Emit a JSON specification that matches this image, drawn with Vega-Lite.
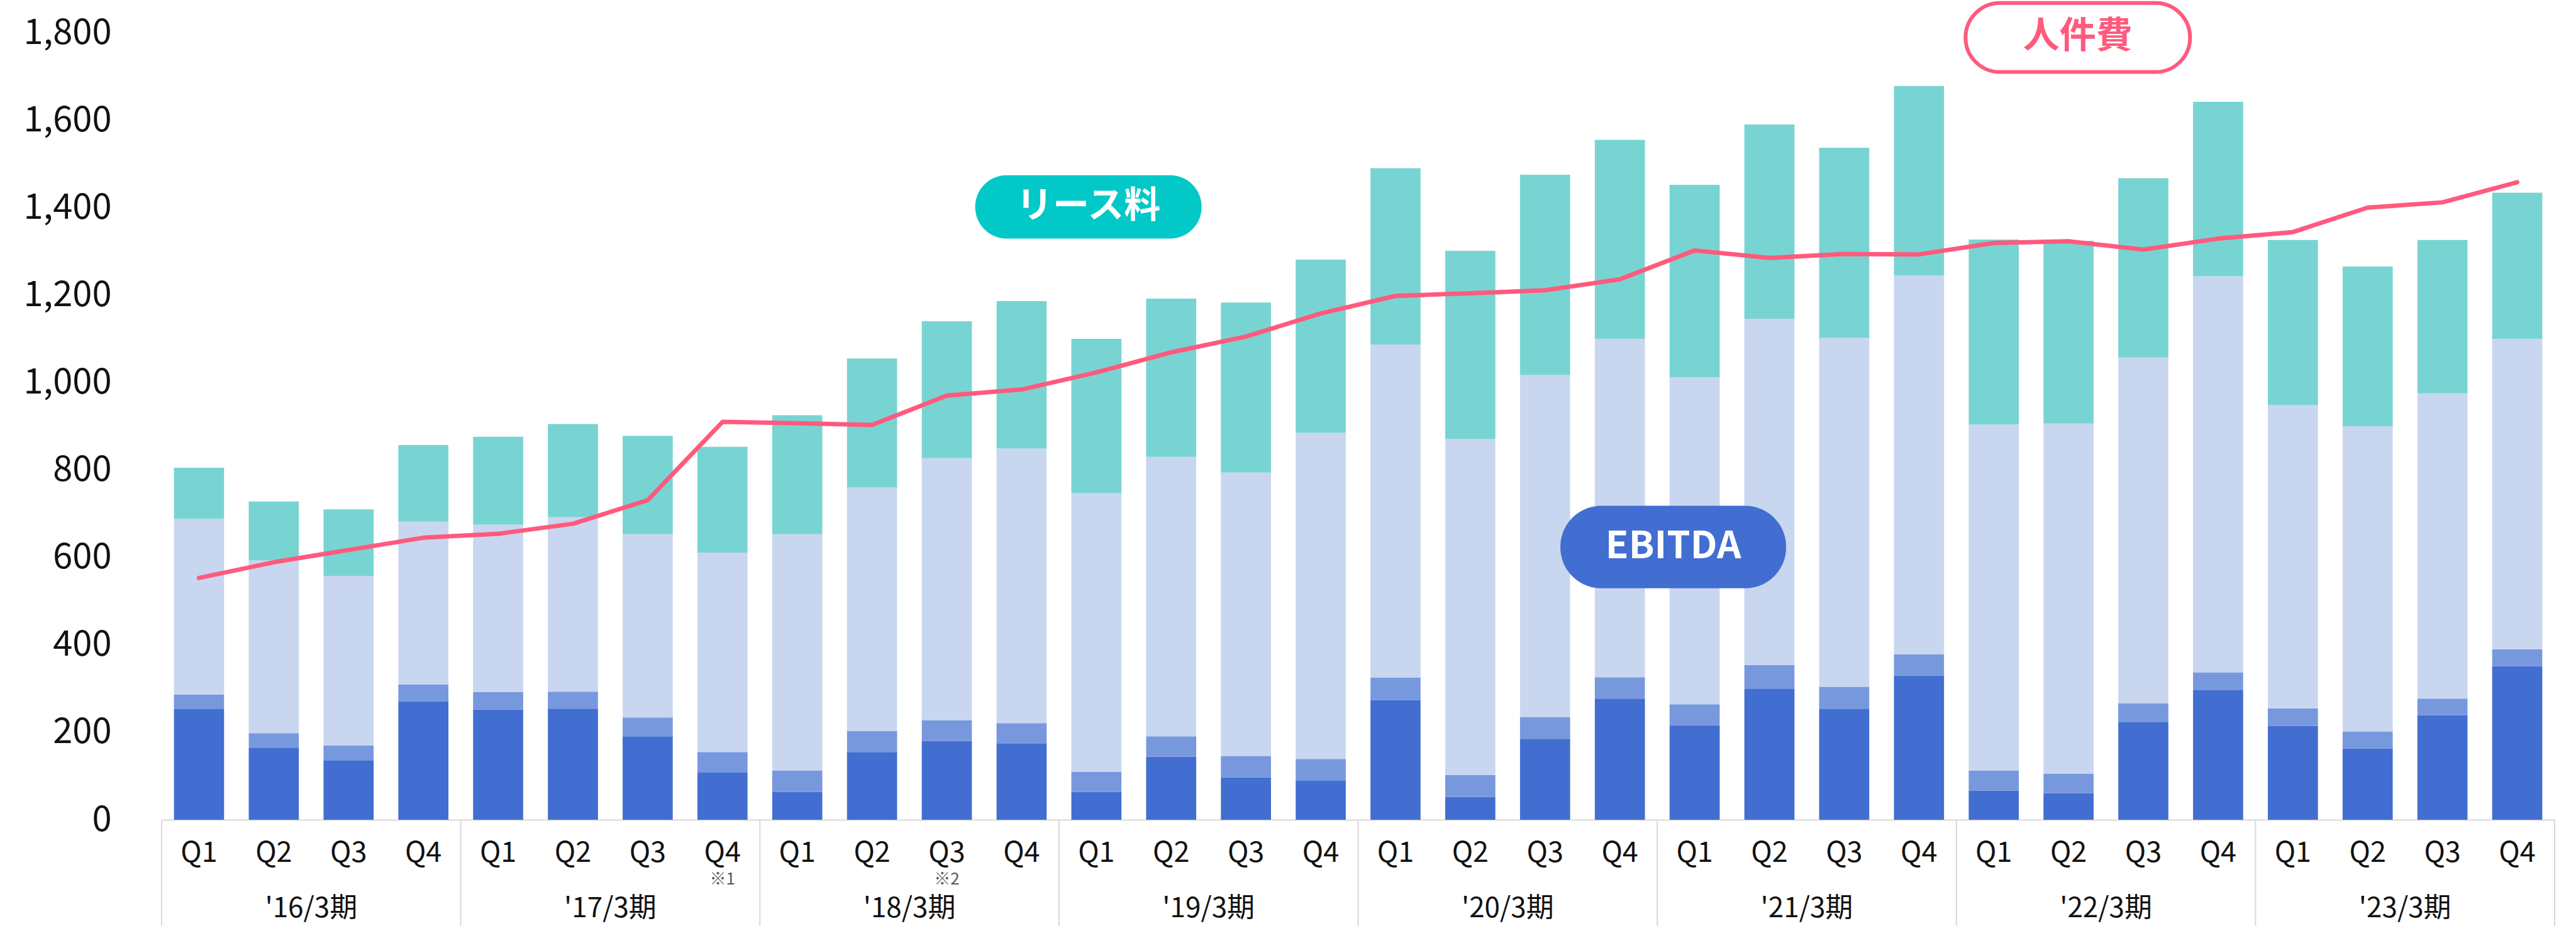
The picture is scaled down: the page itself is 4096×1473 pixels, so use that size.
{
  "$schema": "https://vega.github.io/schema/vega-lite/v6.json",
  "width": 3805,
  "height": 1252,
  "autosize": {"type": "none"},
  "padding": {"left": 257, "top": 52, "right": 34, "bottom": 169},
  "background": "#ffffff",
  "config": {"view": {"stroke": null}, "font": "Noto Sans CJK JP"},
  "datasets": {
    "quarters": [
      {"q": "16Q1", "s1": 253, "s2": 33, "s3": 402, "s4": 117, "labor": 553},
      {"q": "16Q2", "s1": 164, "s2": 34, "s3": 395, "s4": 135, "labor": 589},
      {"q": "16Q3", "s1": 135, "s2": 35, "s3": 388, "s4": 152, "labor": 617},
      {"q": "16Q4", "s1": 271, "s2": 38, "s3": 373, "s4": 175, "labor": 645},
      {"q": "17Q1", "s1": 252, "s2": 40, "s3": 383, "s4": 201, "labor": 654},
      {"q": "17Q2", "s1": 254, "s2": 39, "s3": 399, "s4": 213, "labor": 677},
      {"q": "17Q3", "s1": 191, "s2": 43, "s3": 419, "s4": 225, "labor": 731},
      {"q": "17Q4", "s1": 108, "s2": 47, "s3": 456, "s4": 242, "labor": 910},
      {"q": "18Q1", "s1": 64, "s2": 48, "s3": 541, "s4": 272, "labor": 907},
      {"q": "18Q2", "s1": 154, "s2": 49, "s3": 557, "s4": 295, "labor": 903},
      {"q": "18Q3", "s1": 180, "s2": 47, "s3": 600, "s4": 313, "labor": 970},
      {"q": "18Q4", "s1": 174, "s2": 47, "s3": 628, "s4": 337, "labor": 984},
      {"q": "19Q1", "s1": 64, "s2": 46, "s3": 637, "s4": 353, "labor": 1023},
      {"q": "19Q2", "s1": 144, "s2": 47, "s3": 639, "s4": 362, "labor": 1069},
      {"q": "19Q3", "s1": 97, "s2": 49, "s3": 648, "s4": 389, "labor": 1105},
      {"q": "19Q4", "s1": 89, "s2": 50, "s3": 746, "s4": 396, "labor": 1158},
      {"q": "20Q1", "s1": 274, "s2": 51, "s3": 762, "s4": 403, "labor": 1198},
      {"q": "20Q2", "s1": 52, "s2": 50, "s3": 769, "s4": 430, "labor": 1204},
      {"q": "20Q3", "s1": 185, "s2": 50, "s3": 782, "s4": 458, "labor": 1211},
      {"q": "20Q4", "s1": 277, "s2": 49, "s3": 774, "s4": 455, "labor": 1236},
      {"q": "21Q1", "s1": 216, "s2": 48, "s3": 748, "s4": 440, "labor": 1302},
      {"q": "21Q2", "s1": 299, "s2": 55, "s3": 792, "s4": 444, "labor": 1285},
      {"q": "21Q3", "s1": 253, "s2": 51, "s3": 798, "s4": 435, "labor": 1294},
      {"q": "21Q4", "s1": 330, "s2": 48, "s3": 867, "s4": 433, "labor": 1293},
      {"q": "22Q1", "s1": 67, "s2": 45, "s3": 792, "s4": 423, "labor": 1319},
      {"q": "22Q2", "s1": 61, "s2": 44, "s3": 801, "s4": 418, "labor": 1323},
      {"q": "22Q3", "s1": 224, "s2": 42, "s3": 791, "s4": 410, "labor": 1304},
      {"q": "22Q4", "s1": 296, "s2": 41, "s3": 906, "s4": 399, "labor": 1329},
      {"q": "23Q1", "s1": 215, "s2": 40, "s3": 693, "s4": 378, "labor": 1344},
      {"q": "23Q2", "s1": 163, "s2": 39, "s3": 698, "s4": 365, "labor": 1400},
      {"q": "23Q3", "s1": 239, "s2": 38, "s3": 698, "s4": 351, "labor": 1412},
      {"q": "23Q4", "s1": 351, "s2": 39, "s3": 710, "s4": 334, "labor": 1458}
    ],
    "years": [
      {"yr": "'16/3期", "q": "16Q2", "first": "16Q1"},
      {"yr": "'17/3期", "q": "17Q2", "first": "17Q1"},
      {"yr": "'18/3期", "q": "18Q2", "first": "18Q1"},
      {"yr": "'19/3期", "q": "19Q2", "first": "19Q1"},
      {"yr": "'20/3期", "q": "20Q2", "first": "20Q1"},
      {"yr": "'21/3期", "q": "21Q2", "first": "21Q1"},
      {"yr": "'22/3期", "q": "22Q2", "first": "22Q1"},
      {"yr": "'23/3期", "q": "23Q2", "first": "23Q1"}
    ],
    "notes": [
      {"note": "※1", "q": "17Q4"},
      {"note": "※2", "q": "18Q3"}
    ]
  },
  "layer": [
    {
      "data": {"name": "quarters"},
      "transform": [{"fold": ["s1", "s2", "s3", "s4"], "as": ["seg", "value"]}],
      "mark": {"type": "bar"},
      "encoding": {
        "x": {
          "field": "q", "type": "nominal", "title": null,
          "scale": {"paddingInner": 0.33, "paddingOuter": 0.165},
          "axis": {
            "title": null, "labelExpr": "substring(datum.label, 2)", "labelAngle": 0,
            "labelFontSize": 45, "labelColor": "#111111", "labelFont": "Noto Sans CJK JP",
            "ticks": false, "tickSize": 0, "labelPadding": 30,
            "domainColor": "#d9d9d9", "domainWidth": 2, "grid": false
          }
        },
        "y": {
          "field": "value", "type": "quantitative", "stack": "zero", "title": null,
          "scale": {"domain": [0, 1800], "nice": false},
          "axis": {
            "title": null, "values": [0, 200, 400, 600, 800, 1000, 1200, 1400, 1600, 1800],
            "labelExpr": "format(datum.value, ',')", "labelFontSize": 56, "labelColor": "#111111", "labelFont": "Noto Sans CJK JP",
            "ticks": false, "tickSize": 0, "labelPadding": 80, "domain": false, "grid": false
          }
        },
        "color": {
          "field": "seg", "type": "nominal",
          "scale": {"domain": ["s1", "s2", "s3", "s4"], "range": ["#416ED0", "#7898DE", "#C9D6F0", "#78D4D2"]},
          "legend": null
        },
        "order": {"field": "seg", "sort": "ascending"}
      }
    },
    {
      "data": {"name": "quarters"},
      "mark": {"type": "line", "color": "#FF5A7D", "strokeWidth": 7, "strokeCap": "round", "strokeJoin": "round"},
      "encoding": {
        "x": {"field": "q", "type": "nominal", "title": null},
        "y": {"field": "labor", "type": "quantitative", "title": null, "scale": {"domain": [0, 1800], "nice": false}}
      }
    },
    {
      "data": {"name": "years"},
      "mark": {"type": "rule", "color": "#d9d9d9", "strokeWidth": 2},
      "encoding": {
        "x": {"field": "first", "type": "nominal", "bandPosition": -0.2463, "title": null},
        "y": {"datum": 0, "title": null, "scale": {"domain": [0, 1800], "nice": false}},
        "y2": {"datum": -244}
      }
    },
    {
      "data": {"values": [{"q": "23Q4"}]},
      "mark": {"type": "rule", "color": "#d9d9d9", "strokeWidth": 2},
      "encoding": {
        "x": {"field": "q", "type": "nominal", "bandPosition": 1.2463, "title": null},
        "y": {"datum": 0, "title": null, "scale": {"domain": [0, 1800], "nice": false}},
        "y2": {"datum": -244}
      }
    },
    {
      "data": {"name": "years"},
      "mark": {"type": "text", "fontSize": 44, "color": "#111111", "align": "center", "baseline": "middle", "font": "Noto Sans CJK JP"},
      "encoding": {
        "x": {"field": "q", "type": "nominal", "bandPosition": 1.2463, "title": null},
        "y": {"datum": -204, "title": null, "scale": {"domain": [0, 1800], "nice": false}},
        "text": {"field": "yr"}
      }
    },
    {
      "data": {"name": "notes"},
      "mark": {"type": "text", "fontSize": 26, "color": "#595959", "align": "center", "baseline": "middle", "font": "Noto Sans CJK JP"},
      "encoding": {
        "x": {"field": "q", "type": "nominal", "title": null},
        "y": {"datum": -137, "title": null, "scale": {"domain": [0, 1800], "nice": false}},
        "text": {"field": "note"}
      }
    },
    {
      "data": {"values": [{"label": "リース料", "q": "19Q1"}]},
      "layer": [
        {
          "mark": {"type": "rect", "color": "#02C8C8", "width": 360, "cornerRadius": 50, "xOffset": -12.7},
          "encoding": {
            "x": {"field": "q", "type": "nominal", "title": null},
            "y": {"datum": 1474, "title": null, "scale": {"domain": [0, 1800], "nice": false}},
            "y2": {"datum": 1329}
          }
        },
        {
          "mark": {"type": "text", "fontSize": 58, "fontWeight": "bold", "color": "#ffffff", "align": "center", "baseline": "middle", "font": "Noto Sans CJK JP", "xOffset": -12.7},
          "encoding": {
            "x": {"field": "q", "type": "nominal", "title": null},
            "y": {"datum": 1402, "title": null, "scale": {"domain": [0, 1800], "nice": false}},
            "text": {"field": "label"}
          }
        }
      ]
    },
    {
      "data": {"values": [{"label": "EBITDA", "q": "21Q1"}]},
      "layer": [
        {
          "mark": {"type": "rect", "color": "#416ED0", "width": 359, "cornerRadius": 65, "xOffset": -34},
          "encoding": {
            "x": {"field": "q", "type": "nominal", "title": null},
            "y": {"datum": 718, "title": null, "scale": {"domain": [0, 1800], "nice": false}},
            "y2": {"datum": 529.5}
          }
        },
        {
          "mark": {"type": "text", "fontSize": 60, "fontWeight": "bold", "color": "#ffffff", "align": "center", "baseline": "middle", "font": "Noto Sans CJK JP", "xOffset": -34},
          "encoding": {
            "x": {"field": "q", "type": "nominal", "title": null},
            "y": {"datum": 624, "title": null, "scale": {"domain": [0, 1800], "nice": false}},
            "text": {"field": "label"}
          }
        }
      ]
    },
    {
      "data": {"values": [{"label": "人件費", "q": "22Q2"}]},
      "layer": [
        {
          "mark": {"type": "rect", "fill": "#ffffff", "stroke": "#FF5A7D", "strokeWidth": 6, "width": 357, "cornerRadius": 56, "xOffset": 14.7},
          "encoding": {
            "x": {"field": "q", "type": "nominal", "title": null},
            "y": {"datum": 1868, "title": null, "scale": {"domain": [0, 1800], "nice": false}},
            "y2": {"datum": 1710}
          }
        },
        {
          "mark": {"type": "text", "fontSize": 58, "fontWeight": "bold", "color": "#FF5A7D", "align": "center", "baseline": "middle", "font": "Noto Sans CJK JP", "xOffset": 14.7},
          "encoding": {
            "x": {"field": "q", "type": "nominal", "title": null},
            "y": {"datum": 1790, "title": null, "scale": {"domain": [0, 1800], "nice": false}},
            "text": {"field": "label"}
          }
        }
      ]
    }
  ]
}
